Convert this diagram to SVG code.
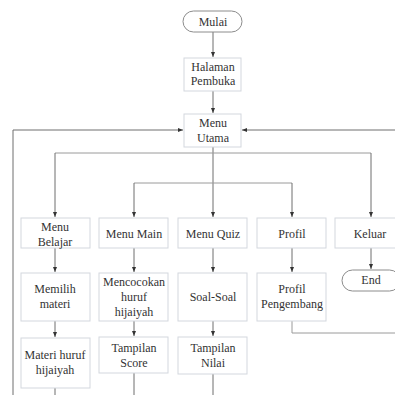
<svg xmlns="http://www.w3.org/2000/svg" width="395" height="395" viewBox="0 0 395 395">
<style>
.box{fill:#fff;stroke:#d3d7de;stroke-width:1}
.term{fill:#fff;stroke:#8c8c8c;stroke-width:1}
.t{font-family:"Liberation Serif","Times New Roman",serif;font-size:12px;fill:#333;text-anchor:middle}
.c{fill:none;stroke:#6e6e6e;stroke-width:1}
.h{fill:none;stroke:#9a9a9a;stroke-width:1}
</style>
<defs>
<marker id="a" markerWidth="6" markerHeight="6" refX="5" refY="3" orient="auto" markerUnits="userSpaceOnUse">
<path d="M0,1 L5,3 L0,5 Z" fill="#333"/>
</marker>
</defs>
<rect width="395" height="395" fill="#fff"/>
<g id="connectors">
<path class="c" d="M213,32 V57" marker-end="url(#a)"/>
<path class="c" d="M213,91 V113" marker-end="url(#a)"/>
<path class="c" d="M13,395 V130 H183" marker-end="url(#a)"/>
<path class="c" d="M395,130 H242" marker-end="url(#a)"/>
<path class="c" d="M213,147 V217" marker-end="url(#a)"/>
<path class="h" d="M55,153 H371"/>
<path class="h" d="M134,183 H292"/>
<path class="c" d="M55,153 V217" marker-end="url(#a)"/>
<path class="c" d="M371,153 V217" marker-end="url(#a)"/>
<path class="c" d="M134,183 V217" marker-end="url(#a)"/>
<path class="c" d="M292,183 V217" marker-end="url(#a)"/>
<path class="c" d="M55,248 V272" marker-end="url(#a)"/>
<path class="c" d="M134,248 V272" marker-end="url(#a)"/>
<path class="c" d="M213,248 V272" marker-end="url(#a)"/>
<path class="c" d="M292,248 V272" marker-end="url(#a)"/>
<path class="c" d="M371,248 V269" marker-end="url(#a)"/>
<path class="c" d="M55,321 V337" marker-end="url(#a)"/>
<path class="c" d="M134,321 V336" marker-end="url(#a)"/>
<path class="c" d="M213,321 V336" marker-end="url(#a)"/>
<path class="h" d="M292,321 V333 H395"/>
<path class="c" d="M55,388 V395"/>
<path class="c" d="M134,373 V395"/>
<path class="c" d="M213,374 V395"/>
</g>
<g id="mulai"><rect class="term" x="183" y="11" width="59" height="21" rx="10.5"/><text class="t" x="213" y="26">Mulai</text></g>
<g id="halaman"><rect class="box" x="184" y="58" width="57" height="33"/><text class="t" x="213" y="71">Halaman</text><text class="t" x="213" y="85">Pembuka</text></g>
<g id="menu-utama"><rect class="box" x="184" y="114" width="57" height="33"/><text class="t" x="213" y="127">Menu</text><text class="t" x="213" y="142">Utama</text></g>
<g id="menu-belajar"><rect class="box" x="21" y="218" width="69" height="30"/><text class="t" x="55" y="231">Menu</text><text class="t" x="55" y="246">Belajar</text></g>
<g id="menu-main"><rect class="box" x="99" y="218" width="69" height="30"/><text class="t" x="134" y="238">Menu Main</text></g>
<g id="menu-quiz"><rect class="box" x="178" y="218" width="69" height="30"/><text class="t" x="213" y="238">Menu Quiz</text></g>
<g id="profil"><rect class="box" x="257" y="218" width="69" height="30"/><text class="t" x="292" y="238">Profil</text></g>
<g id="keluar"><rect class="box" x="335" y="218" width="70" height="30"/><text class="t" x="370" y="238">Keluar</text></g>
<g id="memilih"><rect class="box" x="21" y="273" width="69" height="48"/><text class="t" x="55" y="293">Memilih</text><text class="t" x="55" y="308">materi</text></g>
<g id="mencocokan"><rect class="box" x="99" y="273" width="69" height="48"/><text class="t" x="134" y="286">Mencocokan</text><text class="t" x="134" y="301">huruf</text><text class="t" x="134" y="316">hijaiyah</text></g>
<g id="soal"><rect class="box" x="178" y="273" width="69" height="48"/><text class="t" x="213" y="301">Soal-Soal</text></g>
<g id="profil-pengembang"><rect class="box" x="257" y="273" width="69" height="48"/><text class="t" x="292" y="293">Profil</text><text class="t" x="292" y="308">Pengembang</text></g>
<g id="end"><rect class="term" x="342" y="270" width="58" height="21" rx="10.5"/><text class="t" x="371" y="284">End</text></g>
<g id="materi"><rect class="box" x="21" y="338" width="69" height="50"/><text class="t" x="55" y="359">Materi huruf</text><text class="t" x="55" y="374">hijaiyah</text></g>
<g id="score"><rect class="box" x="99" y="337" width="69" height="36"/><text class="t" x="134" y="352">Tampilan</text><text class="t" x="134" y="367">Score</text></g>
<g id="nilai"><rect class="box" x="178" y="337" width="69" height="37"/><text class="t" x="213" y="352">Tampilan</text><text class="t" x="213" y="367">Nilai</text></g>
</svg>
